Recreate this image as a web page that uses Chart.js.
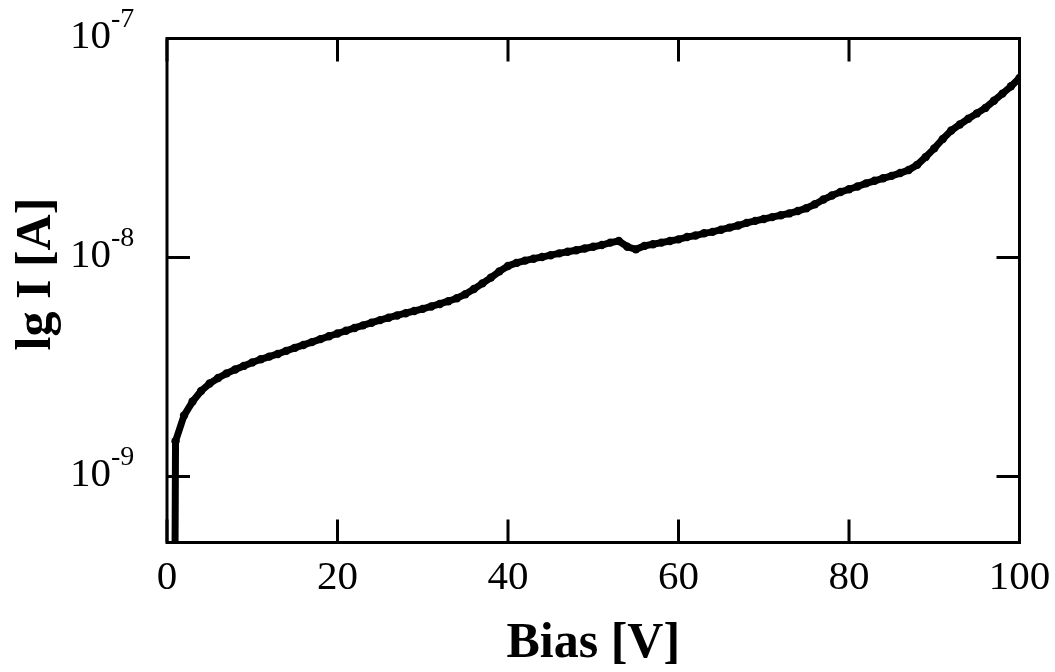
<!DOCTYPE html>
<html>
<head>
<meta charset="utf-8">
<script src="https://cdn.jsdelivr.net/npm/chart.js@4"></script>
<style>
  html, body { margin: 0; padding: 0; background: #ffffff; }
  #c { display: block; }
</style>
</head>
<body>
<canvas id="c" width="1055" height="672"></canvas>
<script>
// ---- data ----
const biasV = [0.9, 1, 2, 3, 4, 5, 6, 7, 8, 9, 10, 11, 12, 13, 14, 15, 16, 17, 18, 19, 20,
  21, 22, 23, 24, 25, 26, 27, 28, 29, 30, 31, 32, 33, 34, 35, 36, 37, 38, 39, 40,
  41, 42, 43, 44, 45, 46, 47, 48, 49, 50, 51, 52, 53, 54, 55, 56, 57, 58, 59, 60,
  61, 62, 63, 64, 65, 66, 67, 68, 69, 70, 71, 72, 73, 74, 75, 76, 77, 78, 79, 80,
  81, 82, 83, 84, 85, 86, 87, 88, 89, 90, 91, 92, 93, 94, 95, 96, 97, 98, 99, 100];
const currentA = [2.0e-10, 1.45e-9, 1.90e-9, 2.20e-9, 2.46e-9, 2.66e-9, 2.82e-9, 2.96e-9, 3.08e-9, 3.20e-9, 3.32e-9,
  3.43e-9, 3.53e-9, 3.63e-9, 3.75e-9, 3.87e-9, 3.99e-9, 4.11e-9, 4.24e-9, 4.37e-9, 4.50e-9,
  4.63e-9, 4.77e-9, 4.90e-9, 5.04e-9, 5.18e-9, 5.31e-9, 5.44e-9, 5.57e-9, 5.70e-9, 5.83e-9,
  5.98e-9, 6.14e-9, 6.32e-9, 6.52e-9, 6.80e-9, 7.18e-9, 7.62e-9, 8.10e-9, 8.65e-9, 9.15e-9,
  9.45e-9, 9.68e-9, 9.88e-9, 1.005e-8, 1.025e-8, 1.045e-8, 1.062e-8, 1.08e-8, 1.10e-8, 1.12e-8,
  1.14e-8, 1.17e-8, 1.19e-8, 1.12e-8, 1.09e-8, 1.13e-8, 1.15e-8, 1.17e-8, 1.19e-8, 1.21e-8,
  1.24e-8, 1.26e-8, 1.29e-8, 1.31e-8, 1.34e-8, 1.37e-8, 1.40e-8, 1.44e-8, 1.47e-8, 1.50e-8,
  1.53e-8, 1.56e-8, 1.59e-8, 1.63e-8, 1.68e-8, 1.75e-8, 1.84e-8, 1.92e-8, 1.99e-8, 2.05e-8,
  2.11e-8, 2.18e-8, 2.24e-8, 2.30e-8, 2.36e-8, 2.43e-8, 2.51e-8, 2.65e-8, 2.88e-8, 3.15e-8,
  3.48e-8, 3.80e-8, 4.05e-8, 4.30e-8, 4.55e-8, 4.82e-8, 5.20e-8, 5.60e-8, 6.05e-8, 6.60e-8];

const xTickValues = [0, 20, 40, 60, 80, 100];
const yTickValues = [1e-9, 1e-8, 1e-7];
const yTickExponents = ['-9', '-8', '-7'];
const xTitle = 'Bias [V]';
const yTitle = 'lg I [A]';

const FONT = '"Liberation Serif", "Times New Roman", serif';
Chart.defaults.font.family = FONT;
Chart.defaults.color = '#000';

const framePlugin = {
  id: 'frameAndLabels',
  afterDraw(chart) {
    const ctx = chart.ctx;
    const a = chart.chartArea;
    const xs = chart.scales.x, ys = chart.scales.y;
    const tickLen = 23;
    ctx.save();
    ctx.strokeStyle = '#000';
    ctx.lineWidth = 3;
    ctx.lineCap = 'butt';
    // frame
    ctx.strokeRect(a.left, a.top, a.right - a.left, a.bottom - a.top);
    // x ticks (inward, top and bottom)
    ctx.beginPath();
    xTickValues.forEach(v => {
      const px = xs.getPixelForValue(v);
      ctx.moveTo(px, a.bottom); ctx.lineTo(px, a.bottom - tickLen);
      ctx.moveTo(px, a.top); ctx.lineTo(px, a.top + tickLen);
    });
    // y ticks (inward, left and right)
    yTickValues.forEach(v => {
      const py = ys.getPixelForValue(v);
      ctx.moveTo(a.left, py); ctx.lineTo(a.left + tickLen, py);
      ctx.moveTo(a.right, py); ctx.lineTo(a.right - tickLen, py);
    });
    ctx.stroke();
    // y tick labels 10^n
    ctx.fillStyle = '#000';
    ctx.textBaseline = 'alphabetic';
    yTickValues.forEach((v, i) => {
      const py = ys.getPixelForValue(v);
      ctx.font = '41px ' + FONT;
      ctx.textAlign = 'right';
      ctx.fillText('10', 111, py + 9.5);
      ctx.font = '28px ' + FONT;
      ctx.textAlign = 'left';
      ctx.fillText(yTickExponents[i], 111, py + 9.5 - 21);
    });
    // y title
    ctx.save();
    ctx.translate(50, 274);
    ctx.rotate(-Math.PI / 2);
    ctx.font = 'bold 50px ' + FONT;
    ctx.textAlign = 'center';
    ctx.textBaseline = 'alphabetic';
    ctx.fillText(yTitle, 0, 0);
    ctx.restore();
    ctx.restore();
  }
};

new Chart(document.getElementById('c'), {
  type: 'line',
  data: {
    datasets: [{
      data: biasV.map((v, i) => ({ x: v, y: currentA[i] })),
      borderColor: '#000',
      backgroundColor: '#000',
      borderWidth: 7,
      pointRadius: 4.2,
      pointBorderWidth: 0,
      pointBackgroundColor: '#000',
      tension: 0,
      fill: false
    }]
  },
  options: {
    responsive: false,
    animation: false,
    devicePixelRatio: 1,
    layout: { padding: { top: 38.5, right: 35.5, left: 0, bottom: 0 } },
    plugins: { legend: { display: false }, tooltip: { enabled: false } },
    scales: {
      x: {
        type: 'linear',
        min: 0, max: 100,
        afterBuildTicks: s => { s.ticks = xTickValues.map(v => ({ value: v })); },
        ticks: { font: { size: 41, family: FONT }, color: '#000', padding: 11, maxRotation: 0, autoSkip: false },
        grid: { display: false, drawTicks: false },
        border: { display: false },
        title: { display: true, text: xTitle, color: '#000',
                 font: { size: 50, weight: 'bold', family: FONT, lineHeight: 1.12 },
                 padding: { top: 0, bottom: 0 } },
        afterFit: s => { s.height = 129.5; s.paddingLeft = 0; s.paddingRight = 0; }
      },
      y: {
        type: 'logarithmic',
        min: 5e-10, max: 1e-7,
        ticks: { display: false },
        grid: { display: false, drawTicks: false },
        border: { display: false },
        afterFit: s => { s.width = 167; s.paddingTop = 0; s.paddingBottom = 0; }
      }
    }
  },
  plugins: [framePlugin]
});
</script>
</body>
</html>
